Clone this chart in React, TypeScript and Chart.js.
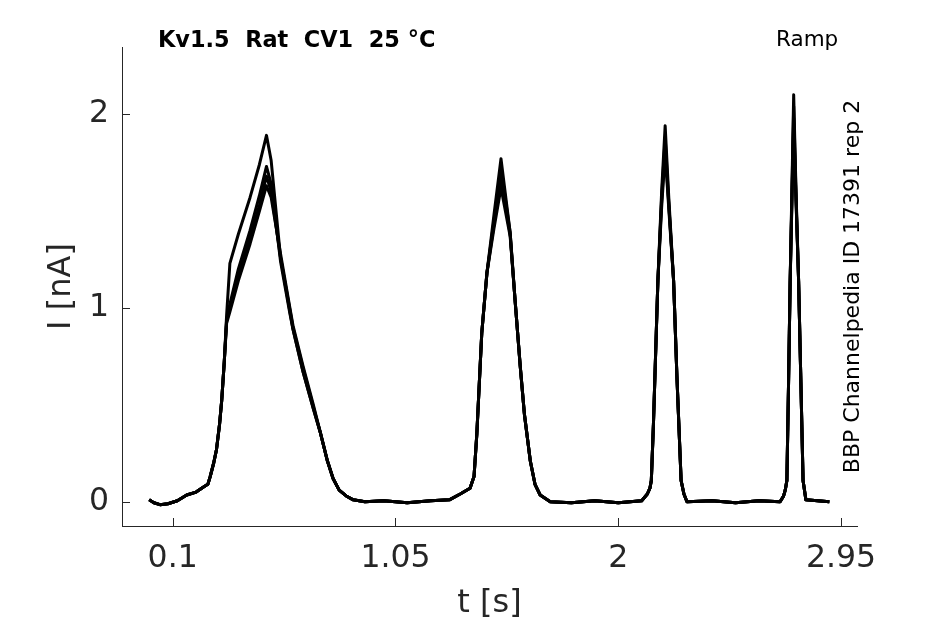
import { useEffect, useRef } from 'react'
import { Chart, registerables } from 'chart.js'

Chart.register(...registerables)

// time points (s), shared by every sweep
const T = [
  0.0, 0.02, 0.046, 0.08, 0.12, 0.16, 0.2, 0.23, 0.25, 0.26, 0.275, 0.287, 0.3, 0.309, 0.32, 0.33, 0.344, 0.38, 0.43, 0.47, 0.5, 0.52, 0.56, 0.6, 0.613, 0.656, 0.7, 0.729, 0.76, 0.784, 0.81, 0.84, 0.87, 0.92,
  1.0, 1.1, 1.2, 1.28, 1.326, 1.368, 1.385, 1.397, 1.418, 1.44, 1.47, 1.5, 1.539, 1.56, 1.582, 1.6, 1.625, 1.645, 1.667, 1.71,
  1.8, 1.9, 2.0, 2.1, 2.124, 2.135, 2.141, 2.15, 2.169, 2.185, 2.2, 2.215, 2.236, 2.25, 2.268, 2.28, 2.293,
  2.4, 2.5, 2.6, 2.69, 2.705, 2.712, 2.719, 2.726, 2.733, 2.748, 2.758, 2.769, 2.779, 2.788, 2.8, 2.85, 2.9,
]

// current (nA) per sweep
const SWEEP_A = [
  0.01, -0.005, -0.015, -0.01, 0.005, 0.035, 0.05, 0.075, 0.09, 0.13, 0.2, 0.27, 0.4, 0.52, 0.72, 0.96, 1.23, 1.38, 1.57, 1.74, 1.89, 1.76, 1.26, 0.98, 0.89, 0.67, 0.48, 0.36, 0.21, 0.12, 0.06, 0.03, 0.01, 0.0,
  0.005, -0.005, 0.005, 0.01, 0.04, 0.07, 0.13, 0.35, 0.87, 1.18, 1.48, 1.77, 1.39, 1.04, 0.7, 0.45, 0.21, 0.09, 0.035, 0.0,
  -0.005, 0.005, -0.005, 0.005, 0.04, 0.07, 0.11, 0.4, 1.14, 1.6, 1.94, 1.58, 1.14, 0.65, 0.11, 0.04, 0.0,
  0.005, -0.005, 0.005, 0.0, 0.03, 0.06, 0.11, 0.6, 1.14, 2.1, 1.6, 1.14, 0.6, 0.11, 0.01, 0.005, 0.0,
]
const SWEEP_B = [
  0.01, -0.005, -0.015, -0.01, 0.005, 0.035, 0.05, 0.075, 0.09, 0.13, 0.2, 0.27, 0.4, 0.52, 0.72, 0.94, 1.02, 1.2, 1.4, 1.58, 1.73, 1.64, 1.24, 0.97, 0.89, 0.67, 0.48, 0.36, 0.21, 0.12, 0.06, 0.03, 0.01, 0.0,
  0.005, -0.005, 0.005, 0.01, 0.04, 0.07, 0.13, 0.35, 0.87, 1.18, 1.45, 1.72, 1.39, 1.04, 0.7, 0.45, 0.21, 0.09, 0.035, 0.0,
  -0.005, 0.005, -0.005, 0.005, 0.04, 0.07, 0.11, 0.4, 1.14, 1.57, 1.88, 1.55, 1.14, 0.65, 0.11, 0.04, 0.0,
  0.005, -0.005, 0.005, 0.0, 0.03, 0.06, 0.11, 0.6, 1.14, 2.04, 1.58, 1.14, 0.6, 0.11, 0.01, 0.005, 0.0,
]
const SWEEP_C = [
  0.01, -0.005, -0.015, -0.01, 0.005, 0.035, 0.05, 0.075, 0.09, 0.13, 0.2, 0.27, 0.4, 0.52, 0.72, 0.93, 1.0, 1.17, 1.36, 1.53, 1.68, 1.6, 1.26, 0.99, 0.9, 0.69, 0.49, 0.36, 0.21, 0.12, 0.06, 0.03, 0.01, 0.0,
  0.005, -0.005, 0.005, 0.01, 0.04, 0.07, 0.13, 0.35, 0.87, 1.18, 1.43, 1.67, 1.38, 1.04, 0.7, 0.45, 0.21, 0.09, 0.035, 0.0,
  -0.005, 0.005, -0.005, 0.005, 0.04, 0.07, 0.11, 0.4, 1.14, 1.55, 1.84, 1.54, 1.14, 0.65, 0.11, 0.04, 0.0,
  0.005, -0.005, 0.005, 0.0, 0.03, 0.06, 0.11, 0.6, 1.14, 1.98, 1.56, 1.14, 0.6, 0.11, 0.01, 0.005, 0.0,
]
const SWEEP_D = [
  0.01, -0.005, -0.015, -0.01, 0.005, 0.035, 0.05, 0.075, 0.09, 0.13, 0.2, 0.27, 0.4, 0.52, 0.72, 0.92, 0.98, 1.14, 1.33, 1.5, 1.63, 1.57, 1.28, 1.0, 0.91, 0.7, 0.5, 0.36, 0.21, 0.12, 0.06, 0.03, 0.01, 0.0,
  0.005, -0.005, 0.005, 0.01, 0.04, 0.07, 0.13, 0.35, 0.87, 1.18, 1.41, 1.62, 1.37, 1.04, 0.7, 0.45, 0.21, 0.09, 0.035, 0.0,
  -0.005, 0.005, -0.005, 0.005, 0.04, 0.07, 0.11, 0.4, 1.14, 1.52, 1.8, 1.52, 1.14, 0.65, 0.11, 0.04, 0.0,
  0.005, -0.005, 0.005, 0.0, 0.03, 0.06, 0.11, 0.6, 1.14, 1.95, 1.55, 1.14, 0.6, 0.11, 0.01, 0.005, 0.0,
]
const SWEEPS = [SWEEP_A, SWEEP_B, SWEEP_C, SWEEP_D]

const X_TICKS = [0.1, 1.05, 2, 2.95]
const Y_TICKS = [0, 1, 2]

const TITLE = 'Kv1.5  Rat  CV1  25 °C'
const PROTOCOL = 'Ramp'
const SOURCE = 'BBP Channelpedia ID 17391 rep 2'

const AXIS = '#262626'
const FONT = '"DejaVu Sans", sans-serif'

const annotate = {
  id: 'annotate',
  afterDraw(chart: Chart) {
    const { ctx } = chart
    const x = chart.scales.x
    const y = chart.scales.y
    ctx.save()
    // inward tick marks
    ctx.strokeStyle = AXIS
    ctx.lineWidth = 1
    ctx.beginPath()
    X_TICKS.forEach(v => {
      const px = Math.round(x.getPixelForValue(v)) + 0.5
      ctx.moveTo(px, y.bottom)
      ctx.lineTo(px, y.bottom - 8)
    })
    Y_TICKS.forEach(v => {
      const py = Math.round(y.getPixelForValue(v)) + 0.5
      ctx.moveTo(x.left, py)
      ctx.lineTo(x.left + 8, py)
    })
    ctx.stroke()

    ctx.fillStyle = '#000'
    ctx.textBaseline = 'alphabetic'
    ctx.textAlign = 'left'
    ctx.font = `bold 22.4px ${FONT}`
    ctx.fillText(TITLE, 158, 47)
    ctx.font = `21.5px ${FONT}`
    ctx.fillText(PROTOCOL, 776, 46)

    ctx.translate(859, (chart.chartArea.top + chart.chartArea.bottom) / 2)
    ctx.rotate(-Math.PI / 2)
    ctx.textAlign = 'center'
    ctx.font = `22px ${FONT}`
    ctx.fillText(SOURCE, 0, 0)
    ctx.restore()
  },
}

export default function App() {
  const canvasRef = useRef<HTMLCanvasElement>(null)
  const chartRef = useRef<Chart | null>(null)

  useEffect(() => {
    if (!canvasRef.current) return
    if (chartRef.current) chartRef.current.destroy()

    chartRef.current = new Chart(canvasRef.current, {
      type: 'line',
      data: {
        datasets: SWEEPS.map((s, i) => ({
          label: 'sweep ' + (i + 1),
          data: T.map((t, j) => ({ x: t, y: s[j] })),
          borderColor: '#000',
          borderWidth: 3,
          borderJoinStyle: 'round',
          pointRadius: 0,
          fill: false,
          tension: 0,
        })),
      },
      options: {
        responsive: false,
        animation: false,
        layout: { padding: { left: 0, top: 47, right: 88, bottom: 0 } },
        plugins: { legend: { display: false }, tooltip: { enabled: false } },
        scales: {
          x: {
            type: 'linear',
            min: -0.116,
            max: 3.018,
            afterBuildTicks: s => { s.ticks = X_TICKS.map(value => ({ value })) },
            afterFit: s => { s.height = 98 },
            grid: { display: false, drawTicks: false },
            border: { display: true, color: AXIS, width: 1 },
            ticks: { color: AXIS, padding: 14, maxRotation: 0, font: { family: FONT, size: 31.5 }, callback: v => String(v) },
            title: { display: true, text: 't [s]', color: AXIS, padding: { top: 0, bottom: 1 }, font: { family: FONT, size: 32 } },
          },
          y: {
            type: 'linear',
            min: -0.125,
            max: 2.346,
            afterBuildTicks: s => { s.ticks = Y_TICKS.map(value => ({ value })) },
            afterFit: s => { s.width = 122 },
            grid: { display: false, drawTicks: false },
            border: { display: true, color: AXIS, width: 1 },
            ticks: { color: AXIS, padding: 13, font: { family: FONT, size: 31.5 }, callback: v => String(v) },
            title: { display: true, text: 'I [nA]', color: AXIS, padding: { top: 42, bottom: 0 }, font: { family: FONT, size: 32 } },
          },
        },
      },
      plugins: [annotate],
    })
    return () => { if (chartRef.current) chartRef.current.destroy() }
  }, [])

  return (
    <div style={{ position: 'absolute', left: 0, top: 0, width: 945, height: 624, background: '#fff' }}>
      <canvas ref={canvasRef} width={945} height={624} />
    </div>
  )
}
